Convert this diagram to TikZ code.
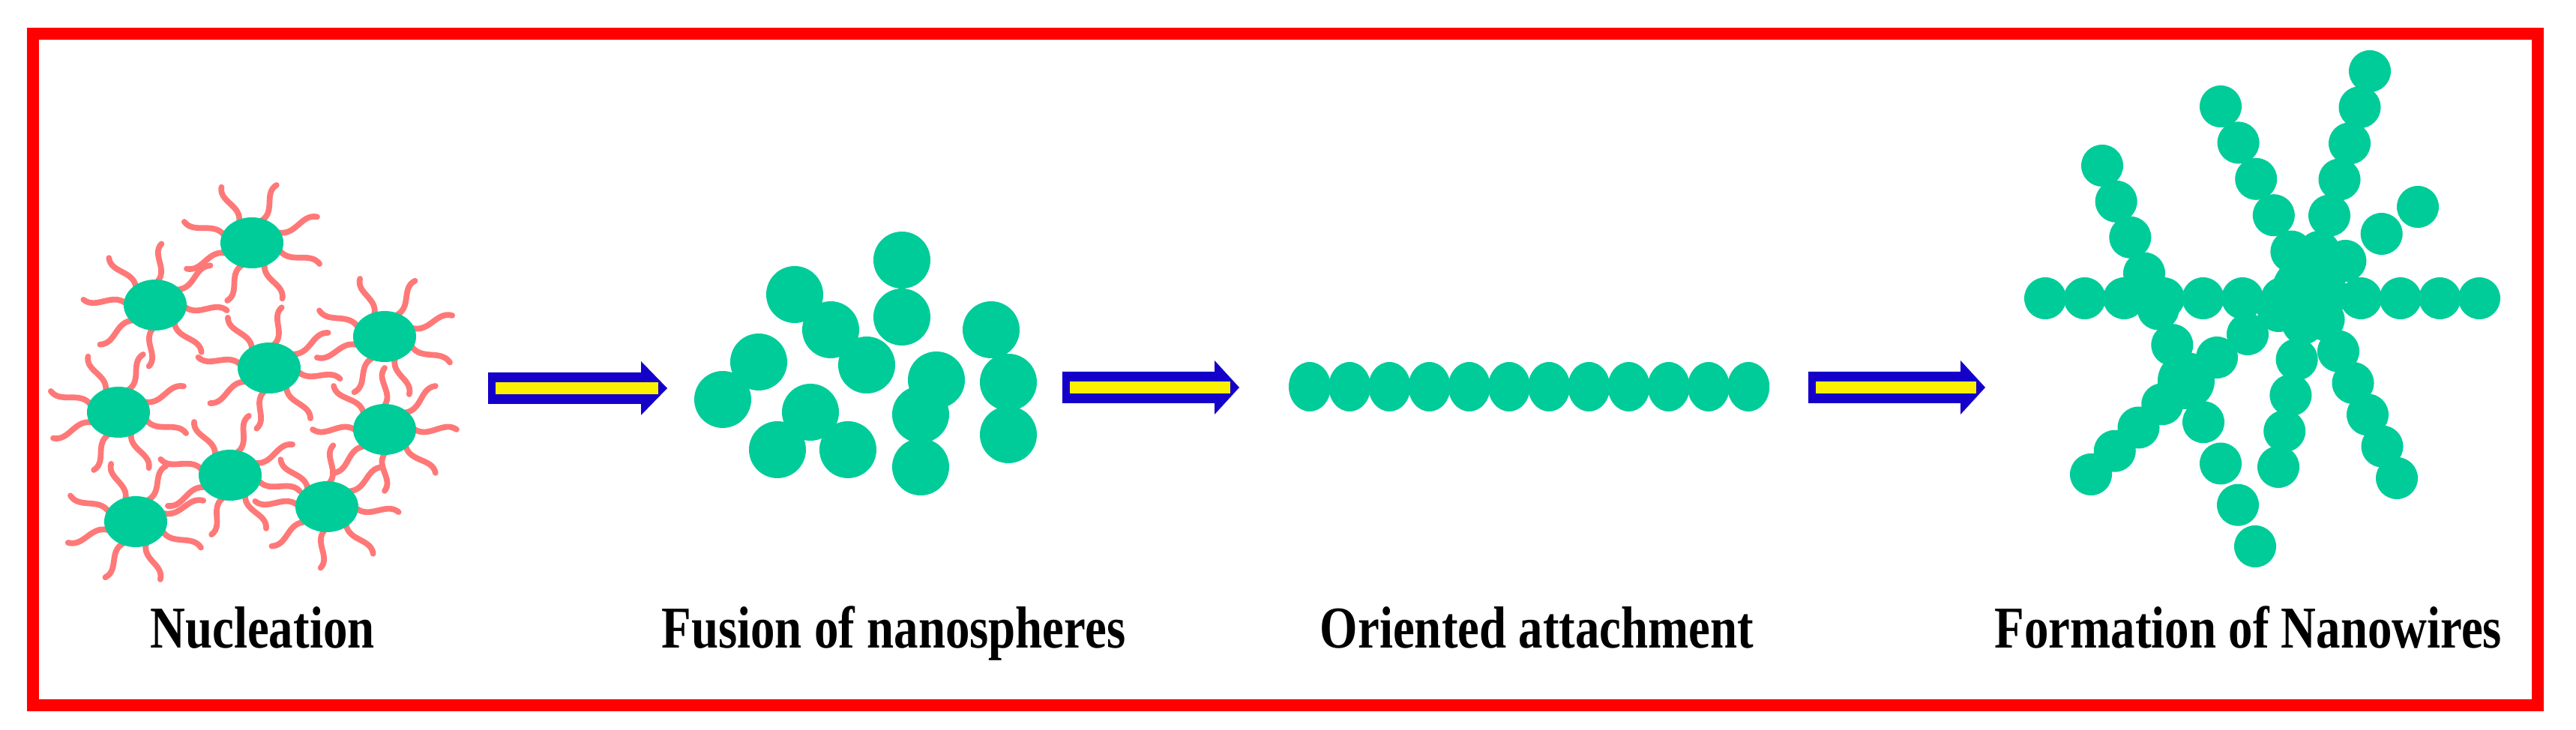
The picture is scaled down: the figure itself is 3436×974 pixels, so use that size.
\documentclass[tikz,border=0pt]{standalone}
\usepackage{fontspec}
\setmainfont{Liberation Serif}
\begin{document}
\begin{tikzpicture}[x=0.01cm,y=-0.01cm,
  teal/.style={fill=tealc,draw=none},
  lig/.style={draw=ligc,line width=2.2pt,line cap=round},
  lbl/.style={font=\fontsize{22.5}{27}\selectfont\bfseries,xscale=0.82,anchor=base,inner sep=0pt}]
\definecolor{tealc}{RGB}{0,204,153}
\definecolor{ligc}{RGB}{255,120,120}
\definecolor{arrblue}{RGB}{20,0,200}
\definecolor{arryel}{RGB}{250,240,0}
\useasboundingbox (0,0) rectangle (3436,974);
\fill[white] (0,0) rectangle (3436,974);
\draw[red,line width=4.8pt] (44,45) rectangle (3385,941);
% ---------- Nucleation ----------
\newcommand\particle[3]{%
  \foreach \a in {0,45,...,315}{%
    \pgfmathsetmacro\b{\a+#3}%
    \draw[lig] ({#1+40*cos(\b)},{#2+32*sin(\b)}) .. controls ({#1+60*cos(\b)-12*sin(\b)},{#2+50*sin(\b)+12*cos(\b)}) and ({#1+78*cos(\b)+12*sin(\b)},{#2+66*sin(\b)-12*cos(\b)}) .. ({#1+96*cos(\b)},{#2+82*sin(\b)});}%
  \fill[tealc] (#1,#2) ellipse [x radius=42, y radius=34];}
\particle{336}{324}{20}
\particle{207}{407}{5}
\particle{513}{449}{25}
\particle{359}{491}{10}
\particle{158}{550}{20}
\particle{513}{573}{0}
\particle{307}{634}{15}
\particle{181}{696}{25}
\particle{436}{676}{5}
% ---------- arrows ----------
\newcommand\fatarrow[4]{%
  \fill[arrblue] (#1,#4-21) -- (#2,#4-21) -- (#2,#4-36) -- (#3,#4) -- (#2,#4+36) -- (#2,#4+21) -- (#1,#4+21) -- cycle;
  \fill[arryel] (#1+10,#4-8) rectangle (#3-12,#4+8);}
\fatarrow{651}{855}{890}{518}
\fatarrow{1417}{1620}{1653}{517}
\fatarrow{2412}{2615}{2648}{517}
% ---------- Fusion ----------
\foreach \x/\y in {1203/347,1203/423,1060/393,1108/440,1156/487,1012/483,964/533,1081/550,1037/600,1131/600,1249/507,1228/553,1228/623,1322/440,1345/510,1345/580}
  \fill[tealc] (\x,\y) circle [radius=38];
% ---------- Oriented attachment ----------
\foreach \i in {0,...,11}
  \fill[tealc] ({1747+53.2*\i},516) ellipse [x radius=28, y radius=33];
% ---------- Nanowires ----------
\newcommand\chain[5]{%
  \foreach \i in {0,...,#5}{%
    \pgfmathsetmacro\t{\i/#5}%
    \fill[tealc] ({#1+(#3-#1)*\t},{#2+(#4-#2)*\t}) circle [radius=28];}}
\chain{2728}{398}{3307}{398}{11}
\chain{2962}{142}{3080}{384}{5}
\chain{3161}{95}{3080}{384}{6}
\chain{2804}{221}{2916}{508}{6}
\chain{2916}{508}{3008}{729}{4}
\chain{3225}{276}{3080}{384}{3}
\chain{3080}{384}{3039}{623}{5}
\chain{3080}{384}{3197}{638}{6}
\chain{2916}{508}{2789}{633}{4}
\chain{2916}{508}{3080}{384}{4}
\fill[tealc] (3080,390) circle [radius=50];
\fill[tealc] (2916,508) circle [radius=38];
% ---------- labels ----------
\node[lbl] (l1) at (350,865) {Nucleation};
\node[lbl] (l2) at (1192,865) {Fusion of nanospheres};
\node[lbl] (l3) at (2050,865) {Oriented attachment};
\node[lbl] (l4) at (2999,865) {Formation of Nanowires};
\end{tikzpicture}
\end{document}
